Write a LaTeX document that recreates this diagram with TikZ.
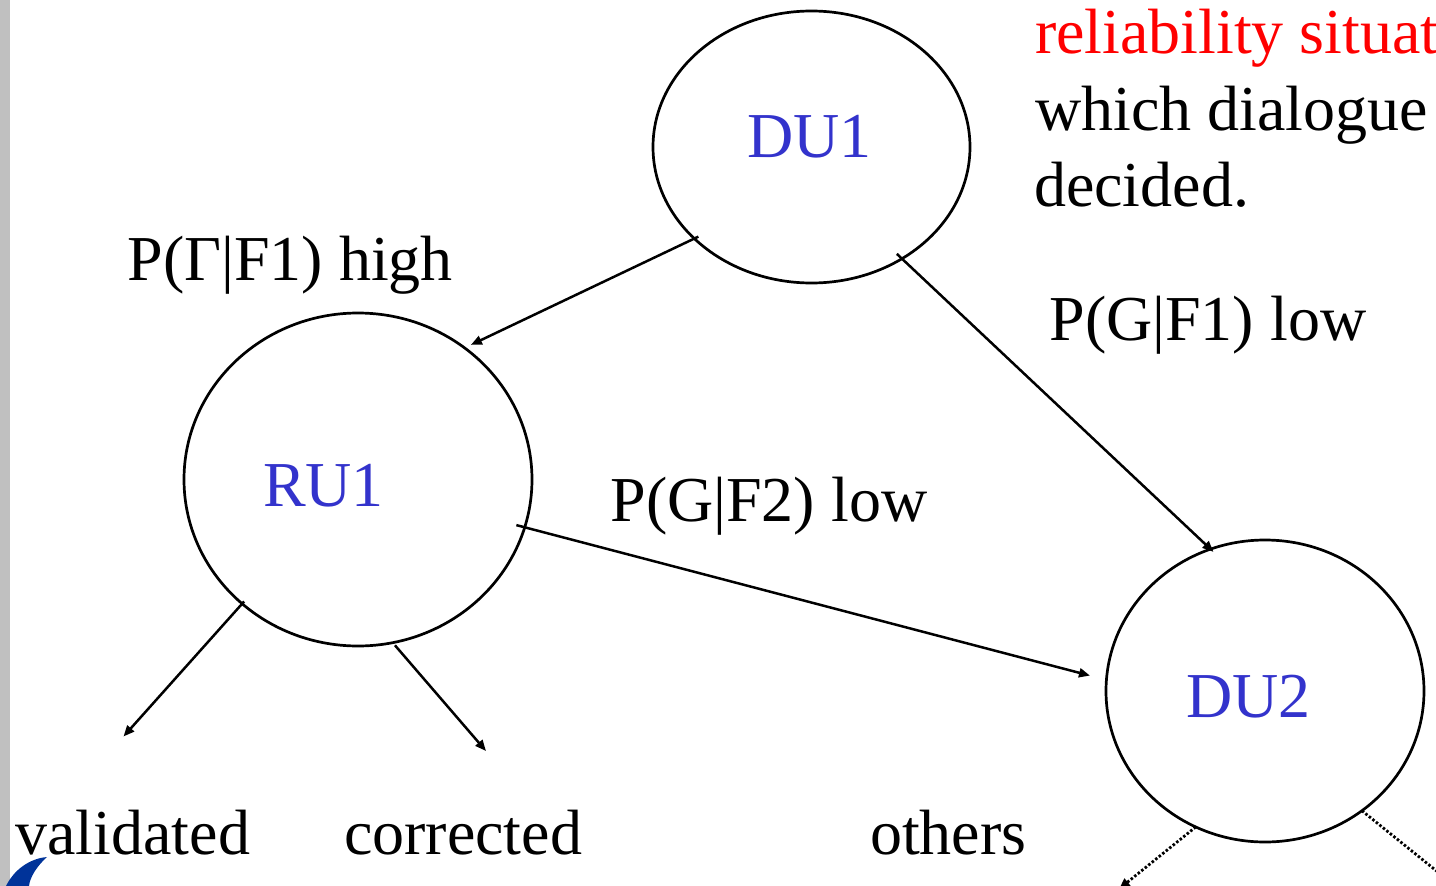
\documentclass[tikz,border=0pt]{standalone}
\usepackage{fontspec}
\setmainfont{Liberation Serif}
\usetikzlibrary{arrows.meta,shapes.geometric}
\definecolor{nodeblue}{HTML}{3333CC}
\definecolor{barblue}{HTML}{003399}
\definecolor{bargrey}{HTML}{C0C0C0}
\tikzset{
  stateoval/.style={draw=black,ellipse,line width=2.7pt,inner sep=0pt,outer sep=0pt},
  txt/.style={anchor=base west,inner sep=0pt,outer sep=0pt,font=\fontsize{64}{76}\selectfont,text=black},
  ovaltxt/.style={txt,text=nodeblue},
  redtxt/.style={txt,text=red},
  link/.style={draw=black,line width=2.5pt,-{Triangle[length=11pt,width=9pt]}},
  dotlink/.style={link,dotted,line width=2.8pt},
}
\begin{document}
\begin{tikzpicture}[x=1pt,y=-1pt]
\useasboundingbox (0,0) rectangle (1436,886);
\clip (0,0) rectangle (1436,886);
\fill[white] (0,0) rectangle (1436,886);
\fill[bargrey] (0,0) rectangle (10,886);
\fill[barblue] (47,857) .. controls (34,858) and (16,866) .. (6,886) -- (29,886) .. controls (30,877) and (37,866) .. (47,857) -- cycle;

\node[stateoval,minimum width=317pt,minimum height=272pt] (du1) at (811.5,147) {};
\node[stateoval,minimum width=348pt,minimum height=333pt] (ru1) at (358,479.5) {};
\node[stateoval,minimum width=318pt,minimum height=302pt] (du2) at (1265,691) {};

\node[ovaltxt] (du1t) at (747.5,157) {DU1};
\node[ovaltxt] (ru1t) at (263,506) {RU1};
\node[ovaltxt] (du2t) at (1186,717) {DU2};

\node[redtxt] (rel) at (1035,53) {reliability situat};
\node[txt] (which) at (1035,130) {which dialogue};
\node[txt] (dec) at (1034,206) {decided.};
\node[txt] (pa) at (127.5,280) {P(Γ|F1) high};
\node[txt] (pb) at (1049.5,340) {P(G|F1) low};
\node[txt] (pc) at (610.5,521) {P(G|F2) low};
\node[txt] (val) at (15.5,854) {validated};
\node[txt] (cor) at (344,854) {corrected};
\node[txt] (oth) at (870,854) {others};

\coordinate (e1) at (123.5,736.5);
\coordinate (e2) at (486,751);
\coordinate (e3) at (1119,889);
\coordinate (e4) at (1470,898);

\draw[link,shorten <=-4.5pt,shorten >=7pt] (du1.218.8) -- (ru1.51.4);
\draw[link,shorten <=-7pt,shorten >=-4pt] (du1.-51.8) -- (du2.111.7);
\draw[link,shorten <=-8.6pt,shorten >=17pt] (ru1.-16.3) -- (du2.176.9);
\draw[link,shorten <=-3pt] (ru1.227.2) -- (e1);
\draw[link,shorten <=3.5pt] (ru1.-78) -- (e2);
\draw[dotlink] (du2.243) -- (e3);
\draw[dotlink] (du2.-51) -- (e4);
\end{tikzpicture}
\end{document}
